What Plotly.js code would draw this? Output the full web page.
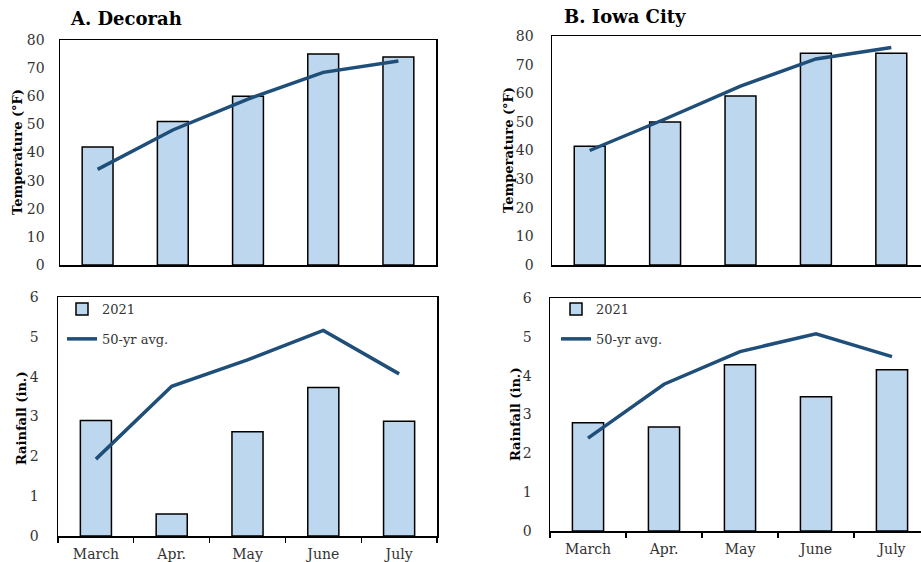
<!DOCTYPE html>
<html>
<head>
<meta charset="utf-8">
<script src="https://cdn.plot.ly/plotly-3.0.1.min.js"></script>
<style>
html, body { margin: 0; padding: 0; overflow: hidden; background: #fff; }
#chart { width: 940px; height: 562px; }
</style>
</head>
<body>
<div id="chart"></div>
<script>
const months = ["March", "Apr.", "May", "June", "July"];
const decorahTemp2021 = [42, 51, 60, 75, 74];
const decorahTempAvg = [34, 48, 59, 68.5, 72.5];
const decorahRain2021 = [2.9, 0.55, 2.62, 3.73, 2.88];
const decorahRainAvg = [1.93, 3.76, 4.42, 5.16, 4.07];
const iowaTemp2021 = [41.5, 50, 59, 74, 74];
const iowaTempAvg = [40, 51, 62.5, 72, 76];
const iowaRain2021 = [2.79, 2.68, 4.28, 3.46, 4.15];
const iowaRainAvg = [2.39, 3.78, 4.62, 5.08, 4.49];
const seriesNames = ["2021", "50-yr avg."];

const W = 940, H = 562;
const BAR_FILL = "#BDD7EE";
const LINE_COL = "#1F4E79";
const SERIF = "DejaVu Serif, serif";

function bar(y, xa, ya, legend, show) {
  return {
    type: "bar", x: months, y: y, xaxis: xa, yaxis: ya,
    name: seriesNames[0], legend: legend, showlegend: show, legendgroup: "g1" + legend,
    marker: { color: BAR_FILL, line: { color: "#000", width: 1.5 } },
    hoverinfo: "x+y"
  };
}
function line(y, xa, ya, legend, show) {
  return {
    type: "scatter", mode: "lines", x: months, y: y, xaxis: xa, yaxis: ya,
    name: seriesNames[1], legend: legend, showlegend: show, legendgroup: "g2" + legend,
    line: { color: LINE_COL, width: 3.5 },
    hoverinfo: "x+y"
  };
}

const data = [
  bar(decorahTemp2021, "x", "y", "legend", false),
  line(decorahTempAvg, "x", "y", "legend", false),
  bar(decorahRain2021, "x2", "y2", "legend", true),
  line(decorahRainAvg, "x2", "y2", "legend", true),
  bar(iowaTemp2021, "x3", "y3", "legend2", false),
  line(iowaTempAvg, "x3", "y3", "legend2", false),
  bar(iowaRain2021, "x4", "y4", "legend2", true),
  line(iowaRainAvg, "x4", "y4", "legend2", true)
];

function px(x) { return x / W; }
function py(y) { return (H - y) / H; }

const tickFont = { family: SERIF, size: 14, color: "#333" };

function xAx(dom, anchor, labels) {
  return {
    domain: [px(dom[0]), px(dom[1])], anchor: anchor,
    type: "category", range: [-0.5, 4.5],
    showline: true, mirror: true, linecolor: "#000", linewidth: 1.5,
    showgrid: false, zeroline: false,
    showticklabels: labels, ticks: labels ? "outside" : "",
    tickson: "boundaries", ticklen: 5, tickcolor: "#000", tickwidth: 1.2,
    ticklabelstandoff: 5,
    tickfont: tickFont, fixedrange: true
  };
}
function yAx(dom, anchor, max, dt, stand) {
  return {
    domain: [py(dom[1]), py(dom[0])], anchor: anchor,
    range: [0, max], dtick: dt, tick0: 0,
    showline: true, mirror: true, linecolor: "#000", linewidth: 1.5,
    showgrid: false, zeroline: false, ticks: "",
    ticklabelstandoff: stand,
    tickfont: tickFont, fixedrange: true
  };
}

const legendFont = { family: SERIF, size: 13, color: "#333" };
function legendAt(x, y) {
  return {
    x: px(x), y: py(y), xanchor: "left", yanchor: "top",
    bgcolor: "rgba(0,0,0,0)", font: legendFont, itemwidth: 30,
    tracegroupgap: 10, traceorder: "grouped"
  };
}

function ytitle(text, x, y) {
  return {
    text: text, x: px(x), y: py(y), xref: "paper", yref: "paper",
    textangle: -90, showarrow: false, xanchor: "center", yanchor: "middle",
    font: { family: SERIF, size: 13, color: "#000", weight: "bold" }
  };
}
function ptitle(text, x, y) {
  return {
    text: text, x: px(x), y: py(y), xref: "paper", yref: "paper",
    showarrow: false, xanchor: "left", yanchor: "middle",
    font: { family: SERIF, size: 18, color: "#000", weight: "bold" }
  };
}

const layout = {
  width: W, height: H,
  margin: { l: 0, r: 0, t: 0, b: 0 },
  paper_bgcolor: "#fff", plot_bgcolor: "#fff",
  bargap: 0.59,
  xaxis: xAx([60, 436], "y", false),
  yaxis: yAx([40, 265], "x", 80, 10, 11),
  xaxis2: xAx([58, 437], "y2", true),
  yaxis2: yAx([297, 536], "x2", 6, 1, 15),
  xaxis3: xAx([552, 929], "y3", false),
  yaxis3: yAx([36, 265], "x3", 80, 10, 14),
  xaxis4: xAx([550, 930], "y4", true),
  yaxis4: yAx([298, 531], "x4", 6, 1, 14),
  legend: legendAt(62, 294),
  legend2: legendAt(556, 294),
  annotations: [
    ptitle("A. Decorah", 68, 18),
    ptitle("B. Iowa City", 562, 17),
    ytitle("Temperature (°F)", 17, 152),
    ytitle("Rainfall (in.)", 22, 418),
    ytitle("Temperature (°F)", 508, 150),
    ytitle("Rainfall (in.)", 515, 414)
  ],
  showlegend: true
};

Plotly.newPlot("chart", data, layout, { displayModeBar: false, staticPlot: true });
</script>
</body>
</html>
